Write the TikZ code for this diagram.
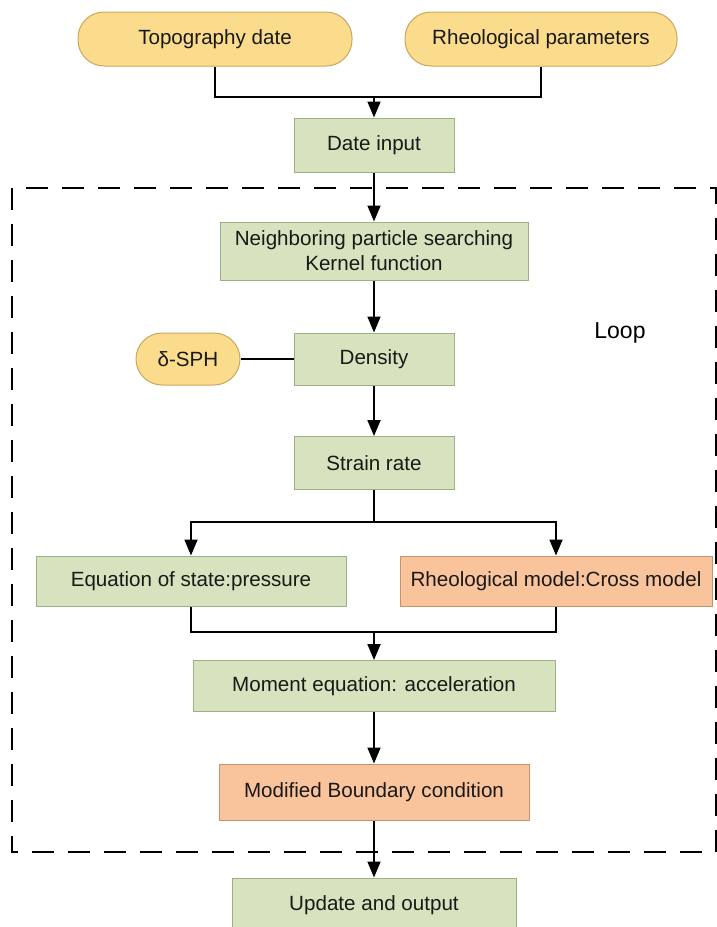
\documentclass[tikz,border=0pt]{standalone}
\usepackage{fontspec}
\setmainfont{Liberation Sans}
\usepackage{xcolor}
\usetikzlibrary{arrows.meta}

\definecolor{boxgreen}{HTML}{D6E3BE}
\definecolor{edgegreen}{HTML}{9DAF85}
\definecolor{pillyellow}{HTML}{FBDC8C}
\definecolor{edgeyellow}{HTML}{C9A85F}
\definecolor{boxorange}{HTML}{F9C39B}
\definecolor{edgeorange}{HTML}{C4946F}

\tikzset{
	stepbox/.style = {draw = edgegreen, fill = boxgreen, line width = 0.5pt, minimum height = 27pt, align = center, font = \fontsize{10.3}{12.5}\selectfont, text = black!90},
	modbox/.style = {stepbox, draw = edgeorange, fill = boxorange},
	pill/.style = {stepbox, draw = edgeyellow, fill = pillyellow, rounded corners = 13pt},
	link/.style = {line width = 0.9pt},
	arr/.style = {link, -{Triangle[length=8pt, width=6.5pt]}}
}

\begin{document}
\begin{tikzpicture}[x = 0.5pt, y = -0.5pt]
			\useasboundingbox (0,0) rectangle (717,927);
			
			% inputs
			\node [pill, minimum width = 137pt] (topo) at (215,39) {Topography date};
			\node [pill, minimum width = 136pt] (rheo) at (541,39) {Rheological parameters};
			\node [stepbox, minimum width = 80pt] (input) at (374,145) {Date input};
			
			% loop
			\draw [line width = 1pt, dash pattern = on 11pt off 7pt] (12,188) rectangle (716,852);
			\node [font = \fontsize{11.5}{13}\selectfont] (loop) at (620,333) {Loop};
			
			\node [stepbox, minimum width = 154pt, minimum height = 29pt] (search) at (374,251) {Neighboring particle searching\\Kernel function};
			\node [stepbox, minimum width = 80pt, minimum height = 26pt] (density) at (374,359) {Density};
			\node [pill, minimum width = 52pt, minimum height = 26pt] (dsph) at (188,359) {δ-SPH};
			\node [stepbox, minimum width = 80pt, minimum height = 26.5pt] (strain) at (374,463) {Strain rate};
			\node [stepbox, minimum width = 155pt, minimum height = 25pt] (eos) at (191,581) {Equation of state:pressure};
			\node [modbox, minimum width = 156pt, minimum height = 25pt] (cross) at (556,581) {Rheological model:Cross model};
			\node [stepbox, minimum width = 181pt, minimum height = 25.5pt] (moment) at (374,686) {Moment equation: acceleration};
			\node [modbox, minimum width = 155pt, minimum height = 28pt] (boundary) at (374,792) {Modified Boundary condition};
			\node [stepbox, minimum width = 142pt, minimum height = 27pt] (output) at (374,905) {Update and output};
			
			% connectors
			\coordinate (join) at (374,97);
			\coordinate (split) at (374,522);
			\coordinate (merge) at (374,632);
			
			\draw [link] (topo.south) |- (join) -| (rheo.south);
			\draw [arr] (join) -- (input.north);
			\draw [arr] (input.south) -- (search.north);
			\draw [arr] (search.south) -- (density.north);
			\draw [link] (dsph.east) -- (density.west);
			\draw [arr] (density.south) -- (strain.north);
			\draw [link] (strain.south) -- (split);
			\draw [arr] (split) -| (eos.north);
			\draw [arr] (split) -| (cross.north);
			\draw [link] (eos.south) |- (merge);
			\draw [link] (cross.south) |- (merge);
			\draw [arr] (merge) -- (moment.north);
			\draw [arr] (moment.south) -- (boundary.north);
			\draw [arr] (boundary.south) -- (output.north);
			
		\end{tikzpicture}
\end{document}
